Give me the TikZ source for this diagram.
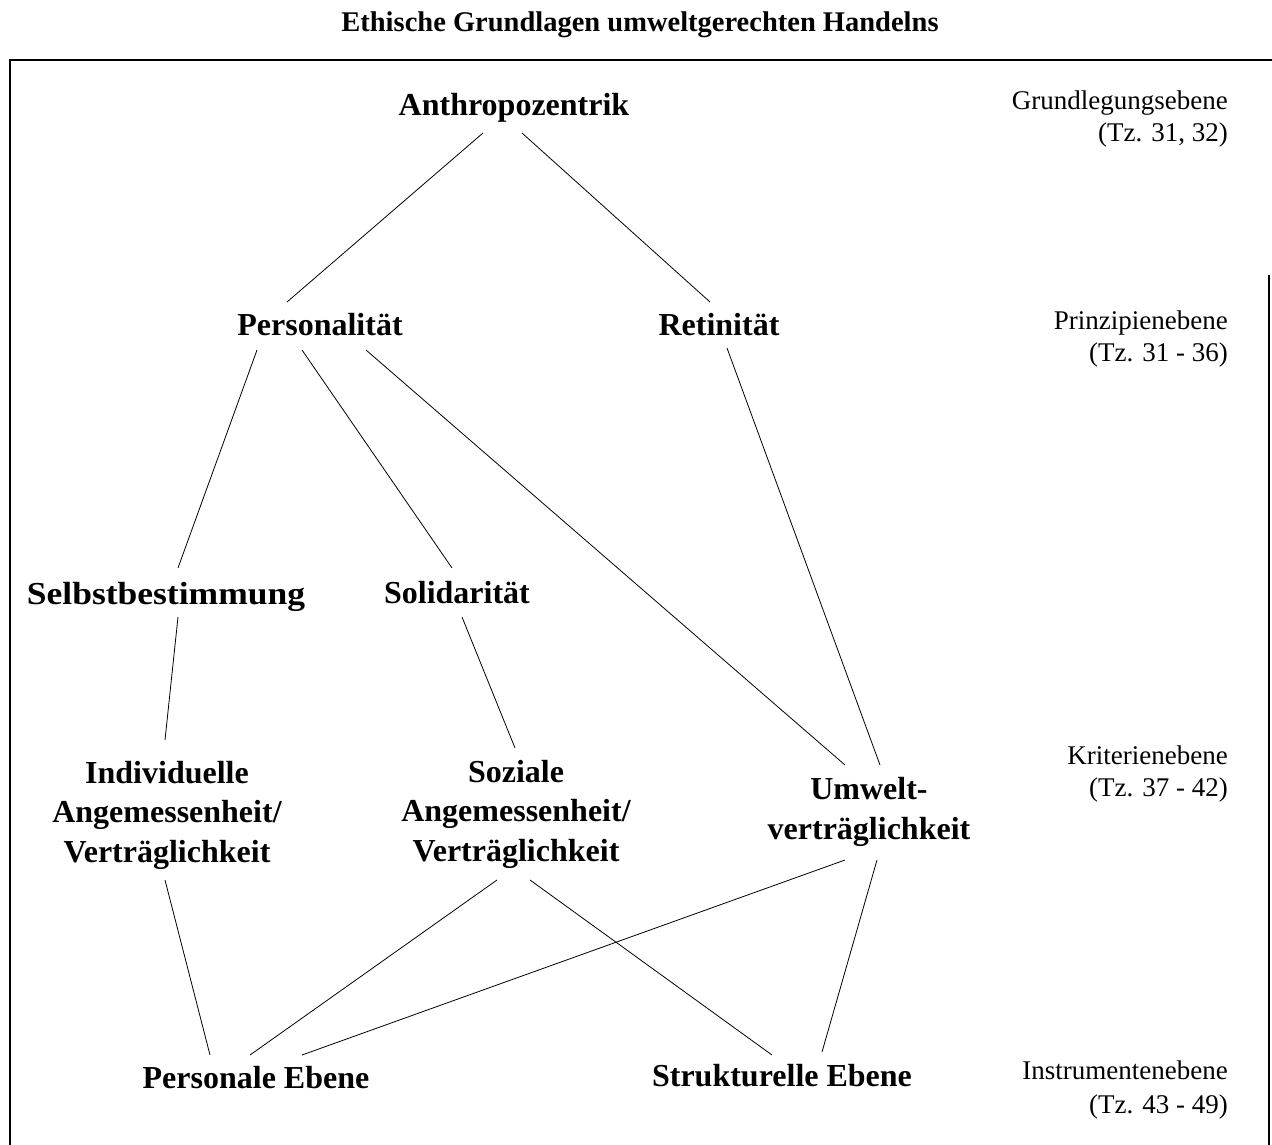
\documentclass[tikz,border=0pt]{standalone}
\usepackage{fontspec}
\setmainfont{Liberation Serif}
\usetikzlibrary{calc}
\begin{document}
\begin{tikzpicture}[x=1pt,y=-1pt,
  lvl/.style={font=\fontsize{32}{39.5}\selectfont\bfseries, align=center, inner sep=0pt},
  side/.style={font=\fontsize{27}{32.5}\selectfont, align=right, inner sep=0pt, anchor=east},
  conn/.style={line width=0.8pt},
  frame/.style={line width=1.5pt}]
\useasboundingbox (0,0) rectangle (1272,1145);
% title and frame
\node[font=\fontsize{28.5}{34}\selectfont\bfseries, inner sep=0pt] (title) at (640,25) {Ethische Grundlagen umweltgerechten Handelns};
\coordinate (ftl) at (10,60);
\coordinate (ftr) at (1272,60);
\coordinate (fbl) at (10,1145);
\coordinate (frt) at (1269,275);
\coordinate (frb) at (1269,1145);
\draw[frame] (fbl) -- (ftl) -- (ftr);
\draw[frame] (frt) -- (frb);
% nodes
\node[lvl] (an) at (514,108) {Anthropozentrik};
\node[lvl] (pe) at (320,325) {Personalität};
\node[lvl] (re) at (719,325) {Retinität};
\node[lvl] (se) at (166,597) {\scalebox{1.11}[1]{Selbstbestimmung}};
\node[lvl] (so) at (457,593) {Solidarität};
\node[lvl] (in) at (167,815) {Individuelle\\Angemessenheit/\\Verträglichkeit};
\node[lvl] (sz) at (516,814) {Soziale\\Angemessenheit/\\Verträglichkeit};
\node[lvl] (um) at (869,812) {Umwelt-\\verträglichkeit};
\node[lvl] (pb) at (256,1078) {Personale Ebene};
\node[lvl] (st) at (782,1076) {Strukturelle Ebene};
% side labels
\node[side] (l1) at (1228,119) {Grundlegungsebene\\(Tz. 31, 32)};
\node[side] (l2) at (1228,339) {Prinzipienebene\\(Tz. 31 - 36)};
\node[side] (l3) at (1228,774) {Kriterienebene\\(Tz. 37 - 42)};
\node[side] (l4) at (1228,1090) {Instrumentenebene\\[2pt](Tz. 43 - 49)};
% connectors
\draw[conn] ($(an)+(-31,25)$) -- ($(pe)+(-33,-23)$);
\draw[conn] ($(an)+(8,25)$) -- ($(re)+(-9,-23)$);
\draw[conn] ($(pe)+(-63,25)$) -- ($(se)+(12,-29)$);
\draw[conn] ($(pe)+(-18,25)$) -- ($(so)+(-5,-25)$);
\draw[conn] ($(pe)+(46,25)$) -- ($(um)+(-24,-47)$);
\draw[conn] ($(re)+(8,23)$) -- ($(um)+(11,-47)$);
\draw[conn] ($(se)+(12,20)$) -- ($(in)+(-2,-75)$);
\draw[conn] ($(so)+(5,24)$) -- ($(sz)+(-1,-66)$);
\draw[conn] ($(in)+(-2,65)$) -- ($(pb)+(-46,-23)$);
\draw[conn] ($(sz)+(-19,66)$) -- ($(pb)+(-6,-23)$);
\draw[conn] ($(um)+(-24,48)$) -- ($(pb)+(46,-23)$);
\draw[conn] ($(sz)+(14,66)$) -- ($(st)+(-10,-21)$);
\draw[conn] ($(um)+(8,48)$) -- ($(st)+(40,-24)$);
\end{tikzpicture}
\end{document}
